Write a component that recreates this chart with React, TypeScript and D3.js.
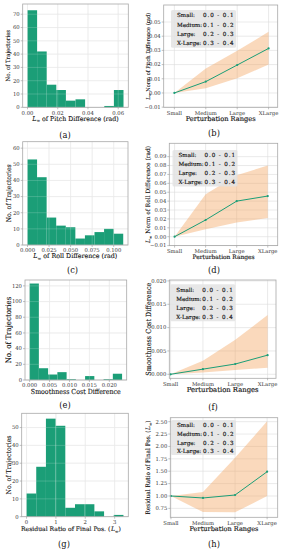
import React from 'react';
import * as d3 from 'd3';

const FONT = '"DejaVu Serif", serif';
const GREEN = '#1b9e77';
const BAND = '#f4a460';

// histogram counts, 10 equal bins from 0 to the max edge
const pitchCounts = [73, 42, 17, 13, 5, 6, 0, 0, 1, 13];
const rollCounts = [53, 42, 17, 12, 11, 4, 6, 8, 10, 7];
const smoothCounts = [123, 15, 7, 10, 1, 0, 5, 0, 1, 8];
const residualCounts = [13, 28, 55, 51, 5, 7, 7, 3, 0, 1];
const pitchMaxEdge = 0.0635;
const rollMaxEdge = 0.111;
const smoothMaxEdge = 0.0232;
const residualMaxEdge = 3.3;

// perturbation range curves (mean + band)
const ranges = ['Small', 'Medium', 'Large', 'XLarge'];
const pitchMean = [0, 0.008, 0.0197, 0.0314];
const pitchLow = [0, 0.0033, 0.0103, 0.0201];
const pitchHigh = [0, 0.0173, 0.0297, 0.0431];
const rollMean = [0, 0.0188, 0.040, 0.0457];
const rollLow = [0, 0.0083, 0.016, 0.021];
const rollHigh = [0, 0.0476, 0.069, 0.080];
const smoothMean = [0, 0.0011, 0.0022, 0.0041];
const smoothLow = [0, 0.0004, 0.0009, 0.0014];
const smoothHigh = [0, 0.0029, 0.0074, 0.0127];
const residualMean = [1.0, 0.96, 1.02, 1.49];
const residualLow = [1.0, 0.675, 0.67, 1.0];
const residualHigh = [1.0, 1.08, 1.77, 2.51];

const legendLabels = ['Small:', 'Medium:', 'Large:', 'X-Large:'];
const legendValues = ['0.0 - 0.1', '0.1 - 0.2', '0.2 - 0.3', '0.3 - 0.4'];

// tick labels
const pitchXTicks = [0, 0.02, 0.04, 0.06];
const rollXTicks = [0, 0.025, 0.05, 0.075, 0.1];
const smoothXTicks = [0, 0.005, 0.01, 0.015, 0.02];
const residualXTicks = [0, 1, 2, 3];
const pitchYTicks = [0, 10, 20, 30, 40, 50, 60, 70];
const rollYTicks = [0, 10, 20, 30, 40, 50, 60];
const smoothYTicks = [0, 20, 40, 60, 80, 100, 120];
const residualYTicks = [0, 10, 20, 30, 40, 50];
const pitchLineTicks = [-0.01, 0, 0.01, 0.02, 0.03, 0.04, 0.05];
const rollLineTicks = [-0.01, 0, 0.01, 0.02, 0.03, 0.04, 0.05, 0.06, 0.07, 0.08, 0.09];
const smoothLineTicks = [0, 0.005, 0.01, 0.015, 0.02];
const residualLineTicks = [0.75, 1, 1.25, 1.5, 1.75, 2, 2.25, 2.5];

type Frame = { x0: number; x1: number; y0: number; y1: number };
type Lbl = { size: number; len?: number; dy?: number; dx?: number };

const minus = (s: string) => s.replace('-', '\u2212');

// italic L with a subscript infinity, followed by the rest of the label
const LInf = ({ tail, gap = 0 }: { tail: string; gap?: number }) => (
  <>
    <tspan fontStyle="italic" dx={gap || undefined}>L</tspan>
    <tspan fontSize="0.7em" dy="1.3">∞</tspan>
    <tspan dy="-1.3">{tail}</tspan>
  </>
);

const Caption = ({ x, y, text }: { x: number; y: number; text: string }) => (
  <text x={x} y={y} fontSize={8.3} textAnchor="middle" fill="#111">{text}</text>
);

function HistPanel(props: {
  counts: number[]; maxEdge: number; frame: Frame; yMax: number;
  xTicks: number[]; fmt: string; yTicks: number[]; xlabel: React.ReactNode; xl: Lbl; yl: Lbl;
}) {
  const { counts, maxEdge, frame, yMax, xTicks, fmt, yTicks, xlabel, xl, yl } = props;
  const pad = maxEdge * 0.05;
  const x = d3.scaleLinear().domain([-pad, maxEdge + pad]).range([frame.x0, frame.x1]);
  const y = d3.scaleLinear().domain([0, yMax]).range([frame.y1, frame.y0]);
  const edges = d3.range(counts.length + 1).map((i) => (i * maxEdge) / counts.length);
  const f = d3.format(fmt);
  const grid = (stroke: string, op: number) => (
    <g stroke={stroke} strokeOpacity={op} strokeWidth={0.6}>
      {xTicks.map((t) => <line key={'x' + t} x1={x(t)} x2={x(t)} y1={frame.y0} y2={frame.y1} />)}
      {yTicks.map((t) => <line key={'y' + t} x1={frame.x0} x2={frame.x1} y1={y(t)} y2={y(t)} />)}
    </g>
  );
  return (
    <g>
      {grid('#dcdcdc', 1)}
      {counts.map((c, i) => (
        <rect key={i} x={x(edges[i])} width={x(edges[i + 1]) - x(edges[i])} y={y(c)} height={frame.y1 - y(c)} fill={GREEN} />
      ))}
      {grid('#ffffff', 0.3)}
      <rect x={frame.x0} y={frame.y0} width={frame.x1 - frame.x0} height={frame.y1 - frame.y0} fill="none" stroke="#a8a8a8" strokeWidth={0.8} />
      <g fontSize={5.3} fill="#333">
        {xTicks.map((t) => (
          <g key={t}>
            <line x1={x(t)} x2={x(t)} y1={frame.y1} y2={frame.y1 + 2} stroke="#999" strokeWidth={0.6} />
            <text x={x(t)} y={frame.y1 + 7.4} textAnchor="middle">{minus(f(t))}</text>
          </g>
        ))}
        {yTicks.map((t) => (
          <g key={t}>
            <line x1={frame.x0 - 2} x2={frame.x0} y1={y(t)} y2={y(t)} stroke="#999" strokeWidth={0.6} />
            <text x={frame.x0 - 3} y={y(t)} dy="0.35em" textAnchor="end">{t}</text>
          </g>
        ))}
      </g>
      <text x={(frame.x0 + frame.x1) / 2 + (xl.dx || 0)} y={frame.y1 + (xl.dy || 13.2)} fontSize={xl.size} textLength={xl.len}
        lengthAdjust={xl.len ? 'spacingAndGlyphs' : undefined} textAnchor="middle" fill="#111" stroke="#111" strokeWidth={0.12}>{xlabel}</text>
      <text transform={`translate(8.4,${(frame.y0 + frame.y1) / 2}) rotate(-90)`} dy="0.35em" fontSize={yl.size} textLength={yl.len}
        lengthAdjust="spacingAndGlyphs" textAnchor="middle" fill="#111" stroke="#111" strokeWidth={0.1}>No. of Trajectories</text>
    </g>
  );
}

function LinePanel(props: {
  mean: number[]; low: number[]; high: number[]; frame: Frame; xDom: [number, number];
  yDom: [number, number]; yTicks: number[]; fmt: string; ylabel: React.ReactNode;
  legend: { x: number; y: number; step: number }; xl: Lbl; yl: Lbl;
}) {
  const { mean, low, high, frame, xDom, yDom, yTicks, fmt, ylabel, legend, xl, yl } = props;
  const x = d3.scaleLinear().domain(xDom).range([frame.x0, frame.x1]);
  const y = d3.scaleLinear().domain(yDom).range([frame.y1, frame.y0]);
  const f = d3.format(fmt);
  const idx = ranges.map((_, i) => i);
  const area = d3.area<number>().x((i) => x(i)).y0((i) => y(low[i])).y1((i) => y(high[i]));
  const line = d3.line<number>().x((i) => x(i)).y((i) => y(mean[i]));
  return (
    <g>
      <g stroke="#dcdcdc" strokeWidth={0.6}>
        {idx.map((i) => <line key={'x' + i} x1={x(i)} x2={x(i)} y1={frame.y0} y2={frame.y1} />)}
        {yTicks.map((t) => <line key={'y' + t} x1={frame.x0} x2={frame.x1} y1={y(t)} y2={y(t)} />)}
      </g>
      <path d={area(idx) || ''} fill={BAND} fillOpacity={0.42} />
      <path d={line(idx) || ''} fill="none" stroke={GREEN} strokeWidth={1} />
      {idx.map((i) => <circle key={i} cx={x(i)} cy={y(mean[i])} r={1.1} fill={GREEN} />)}
      <rect x={legend.x} y={legend.y} width={65} height={legend.step * 4 + 0.5} rx={1.5} fill="#e3e3e3" fillOpacity={0.85} />
      <g fontSize={5.6} fill="#111" stroke="#111" strokeWidth={0.15}>
        {legendLabels.map((l, i) => (
          <g key={l}>
            <text x={legend.x + 6} y={legend.y + 7.3 + i * legend.step}>{l}</text>
            <text x={legend.x + 32} y={legend.y + 7.3 + i * legend.step} textLength={30.5} lengthAdjust="spacing">{legendValues[i]}</text>
          </g>
        ))}
      </g>
      <rect x={frame.x0} y={frame.y0} width={frame.x1 - frame.x0} height={frame.y1 - frame.y0} fill="none" stroke="#a8a8a8" strokeWidth={0.8} />
      <g fontSize={5.3} fill="#333">
        {ranges.map((r, i) => (
          <g key={r}>
            <line x1={x(i)} x2={x(i)} y1={frame.y1} y2={frame.y1 + 2} stroke="#999" strokeWidth={0.6} />
            <text x={x(i)} y={frame.y1 + 7.4} textAnchor="middle">{r}</text>
          </g>
        ))}
        {yTicks.map((t) => (
          <g key={t}>
            <line x1={frame.x0 - 2} x2={frame.x0} y1={y(t)} y2={y(t)} stroke="#999" strokeWidth={0.6} />
            <text x={frame.x0 - 3} y={y(t)} dy="0.35em" textAnchor="end">{minus(f(t))}</text>
          </g>
        ))}
      </g>
      <text x={(frame.x0 + frame.x1) / 2} y={frame.y1 + (xl.dy || 13.2)} fontSize={xl.size} textLength={xl.len} lengthAdjust="spacingAndGlyphs"
        textAnchor="middle" fill="#111" stroke="#111" strokeWidth={0.15}>Perturbation Ranges</text>
      <text transform={`translate(148.3,${(frame.y0 + frame.y1) / 2}) rotate(-90)`} dy="0.35em" fontSize={yl.size} textLength={yl.len}
        lengthAdjust="spacingAndGlyphs" textAnchor="middle" fill="#111" stroke="#111" strokeWidth={0.1}>{ylabel}</text>
    </g>
  );
}

export default function App() {
  return (
    <svg width={282} height={550} style={{ position: 'absolute', left: 0, top: 0, background: '#fff' }} fontFamily={FONT}>
      <HistPanel counts={pitchCounts} maxEdge={pitchMaxEdge} frame={{ x0: 22.7, x1: 128.3, y0: 4, y1: 107.3 }} yMax={77.7}
        xTicks={pitchXTicks} fmt=".2f" yTicks={pitchYTicks} xlabel={<LInf tail=" of Pitch Difference (rad)" />}
        xl={{ size: 6.4, len: 86.5 }} yl={{ size: 5.9, len: 51.6 }} />
      <Caption x={65} y={137.5} text="(a)" />
      <LinePanel mean={pitchMean} low={pitchLow} high={pitchHigh} frame={{ x0: 163.7, x1: 277.7, y0: 5, y1: 107.3 }}
        xDom={[-0.34, 3.29]} yDom={[-0.0101, 0.062]} yTicks={pitchLineTicks} fmt=".2f"
        ylabel={<LInf tail=" Norm of Pitch Difference (rad)" />} legend={{ x: 171, y: 10, step: 9.3 }}
        xl={{ size: 6.7, len: 70 }} yl={{ size: 5.3, len: 87 }} />
      <Caption x={214} y={136} text="(b)" />

      <HistPanel counts={rollCounts} maxEdge={rollMaxEdge} frame={{ x0: 22.7, x1: 128, y0: 141.7, y1: 245 }} yMax={64}
        xTicks={rollXTicks} fmt=".3f" yTicks={rollYTicks} xlabel={<LInf tail=" of Roll Difference (rad)" />}
        xl={{ size: 6.4, len: 84 }} yl={{ size: 6.6, len: 58 }} />
      <Caption x={72.5} y={272.8} text="(c)" />
      <LinePanel mean={rollMean} low={rollLow} high={rollHigh} frame={{ x0: 169.3, x1: 277.7, y0: 143.3, y1: 245.6 }}
        xDom={[-0.17, 3.32]} yDom={[-0.01, 0.105]} yTicks={rollLineTicks} fmt=".2f"
        ylabel={<LInf tail=" Norm of Roll Difference (rad)" />} legend={{ x: 172.5, y: 150, step: 9 }}
        xl={{ size: 6, len: 62 }} yl={{ size: 6, len: 97 }} />
      <Caption x={214} y={272.8} text="(d)" />

      <HistPanel counts={smoothCounts} maxEdge={smoothMaxEdge} frame={{ x0: 25, x1: 126.7, y0: 280, y1: 380 }} yMax={127.5}
        xTicks={smoothXTicks} fmt=".3f" yTicks={smoothYTicks} xlabel="Smoothness Cost Difference"
        xl={{ size: 7, len: 90, dy: 13.6 }} yl={{ size: 7.5, len: 66.7 }} />
      <Caption x={65} y={407.8} text="(e)" />
      <LinePanel mean={smoothMean} low={smoothLow} high={smoothHigh} frame={{ x0: 169.3, x1: 276, y0: 280, y1: 378.3 }}
        xDom={[-0.04, 3.26]} yDom={[-0.00086, 0.0202]} yTicks={smoothLineTicks} fmt=".3f"
        ylabel="Smoothness Cost Difference" legend={{ x: 170.3, y: 284.3, step: 9.1 }}
        xl={{ size: 6.9, len: 72, dy: 13.6 }} yl={{ size: 7.2, len: 93 }} />
      <Caption x={213} y={409.5} text="(f)" />

      <HistPanel counts={residualCounts} maxEdge={residualMaxEdge} frame={{ x0: 21.7, x1: 128.3, y0: 413.3, y1: 516.7 }} yMax={58}
        xTicks={residualXTicks} fmt="d" yTicks={residualYTicks} xlabel={<>Residual Ratio of Final Pos. (<LInf tail=")" gap={0.6} /></>}
        xl={{ size: 6.1, dy: 14.6, dx: -4 }} yl={{ size: 6.7, len: 59 }} />
      <Caption x={64} y={546.5} text="(g)" />
      <LinePanel mean={residualMean} low={residualLow} high={residualHigh} frame={{ x0: 170.3, x1: 277.7, y0: 417.7, y1: 517.3 }}
        xDom={[-0.02, 3.33]} yDom={[0.57, 2.58]} yTicks={residualLineTicks} fmt=".2f"
        ylabel={<>Residual Ratio of Final Pos. (<LInf tail=")" gap={0.6} /></>} legend={{ x: 171, y: 420, step: 8.6 }}
        xl={{ size: 6.6, len: 69, dy: 13.6 }} yl={{ size: 6.2, len: 94 }} />
      <Caption x={214} y={546.5} text="(h)" />
    </svg>
  );
}
